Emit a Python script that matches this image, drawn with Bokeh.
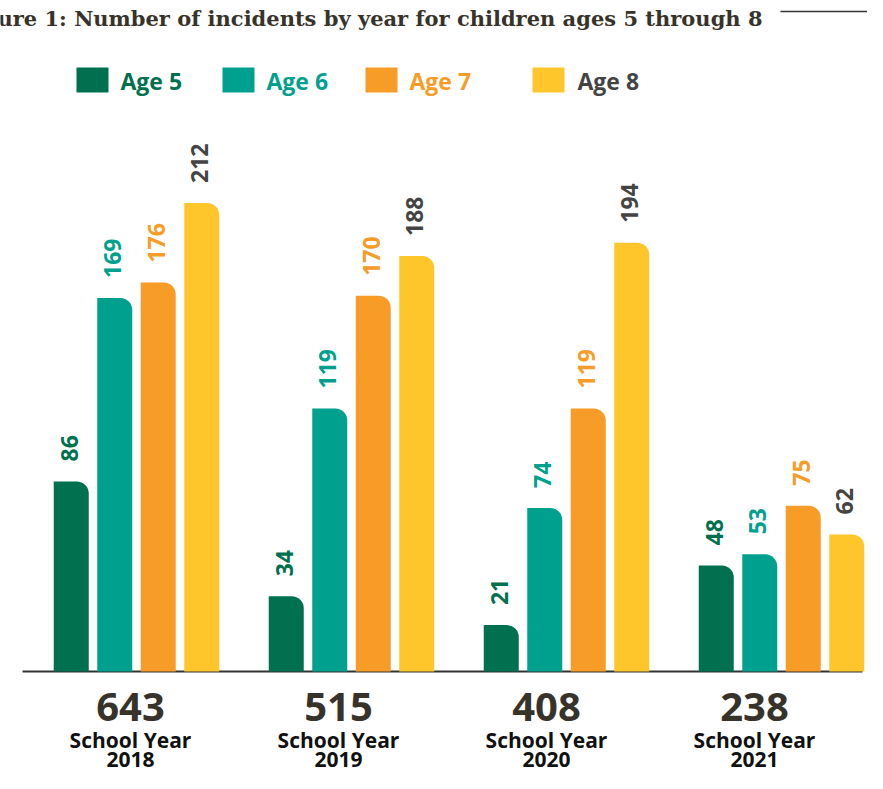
import math
from bokeh.plotting import figure
from bokeh.models import Range1d, ColumnDataSource
from bokeh.core.properties import value
from bokeh.embed import file_html
from bokeh.resources import INLINE

# ---------------- data ----------------
years = ["2018", "2019", "2020", "2021"]
totals = [643, 515, 408, 238]
series_names = ["Age 5", "Age 6", "Age 7", "Age 8"]
age5 = [86, 34, 21, 48]
age6 = [169, 119, 74, 53]
age7 = [176, 170, 119, 75]
age8 = [212, 188, 194, 62]
title_text = "Figure 1: Number of incidents by year for children ages 5 through 8"

# ---------------- styles ----------------
bar_colors = ["#00704f", "#00a08e", "#f89c28", "#ffc62c"]
label_colors = ["#00704f", "#00a08e", "#f89c28", "#444444"]
legend_text_colors = ["#00704f", "#00a08e", "#f89c28", "#444444"]
DARK = "#38332a"
SANS = "Open Sans"
SERIF = "DejaVu Serif"

W, H = 867, 773
BASE = 671             # baseline (canvas px from top)
PPU = 2.21             # pixels per incident
GROUP0, GROUP_STEP = 136, 215
BAR_STEP, BAR_W = 43.5, 35
LABEL0, LABEL_STEP = 130, 208


def py(pix_y):
    return (BASE - pix_y) / PPU


p = figure(width=W, height=H, output_backend="svg", toolbar_location=None,
           x_range=Range1d(0, W), y_range=Range1d(py(H), py(0)),
           x_axis_type=None, y_axis_type=None, min_border=0,
           outline_line_color=None, background_fill_color="white",
           border_fill_color="white")
p.xgrid.visible = False
p.ygrid.visible = False

# title + rule
p.text(x=[762], y=[py(18)], text=[title_text], text_align="right",
       text_baseline="alphabetic", text_font=value(SERIF), text_font_style="bold",
       text_font_size="21px", text_color=DARK)
p.segment(x0=[780], y0=[py(11)], x1=[W], y1=[py(11)],
          line_color="#333333", line_width=1.5)

# legend
leg_sq_x = [76, 222, 365, 532]
leg_txt_x = [120, 266, 409, 577]
for j, name in enumerate(series_names):
    p.quad(left=[leg_sq_x[j]], right=[leg_sq_x[j] + 32], bottom=[py(92)], top=[py(67)],
           fill_color=bar_colors[j], line_color=None)
    p.text(x=[leg_txt_x[j]], y=[py(80)], text=[name], text_align="left",
           text_baseline="middle", text_font=value(SANS), text_font_style="bold",
           text_font_size="23px", text_color=legend_text_colors[j])

# baseline
p.segment(x0=[22], y0=[0], x1=[862], y1=[0], line_color="#333333", line_width=2)

# bars + value labels
all_series = [age5, age6, age7, age8]
centers = [GROUP0 + GROUP_STEP * i for i in range(len(years))]
for j, vals in enumerate(all_series):
    xs = [c + (j - 1.5) * BAR_STEP for c in centers]
    src = ColumnDataSource(dict(x=xs, top=vals, lab=[str(v) for v in vals],
                                lx=[x - 2 for x in xs]))
    p.vbar(x="x", top="top", bottom=0, width=BAR_W, source=src,
           fill_color=bar_colors[j], line_color=None,
           border_radius=(0, 12, 0, 0))
    p.text(x="lx", y="top", text="lab", source=src, angle=math.pi / 2,
           text_align="left", text_baseline="middle", y_offset=-20,
           text_font=value(SANS), text_font_style="bold", text_font_size="23px",
           text_color=label_colors[j])

# totals and year labels
lab_x = [LABEL0 + LABEL_STEP * i for i in range(len(years))]
p.text(x=lab_x, y=[py(706)] * 4, text=[str(t) for t in totals], text_align="center",
       text_baseline="middle", text_font=value(SANS), text_font_style="bold",
       text_font_size="40px", text_color=DARK)
p.text(x=lab_x, y=[py(739)] * 4, text=["School Year"] * 4, text_align="center",
       text_baseline="middle", text_font=value(SANS), text_font_style="bold",
       text_font_size="21px", text_color="#111111")
p.text(x=lab_x, y=[py(759)] * 4, text=years, text_align="center",
       text_baseline="middle", text_font=value(SANS), text_font_style="bold",
       text_font_size="21px", text_color="#111111")

open("out.html", "w").write(file_html(p, INLINE))
